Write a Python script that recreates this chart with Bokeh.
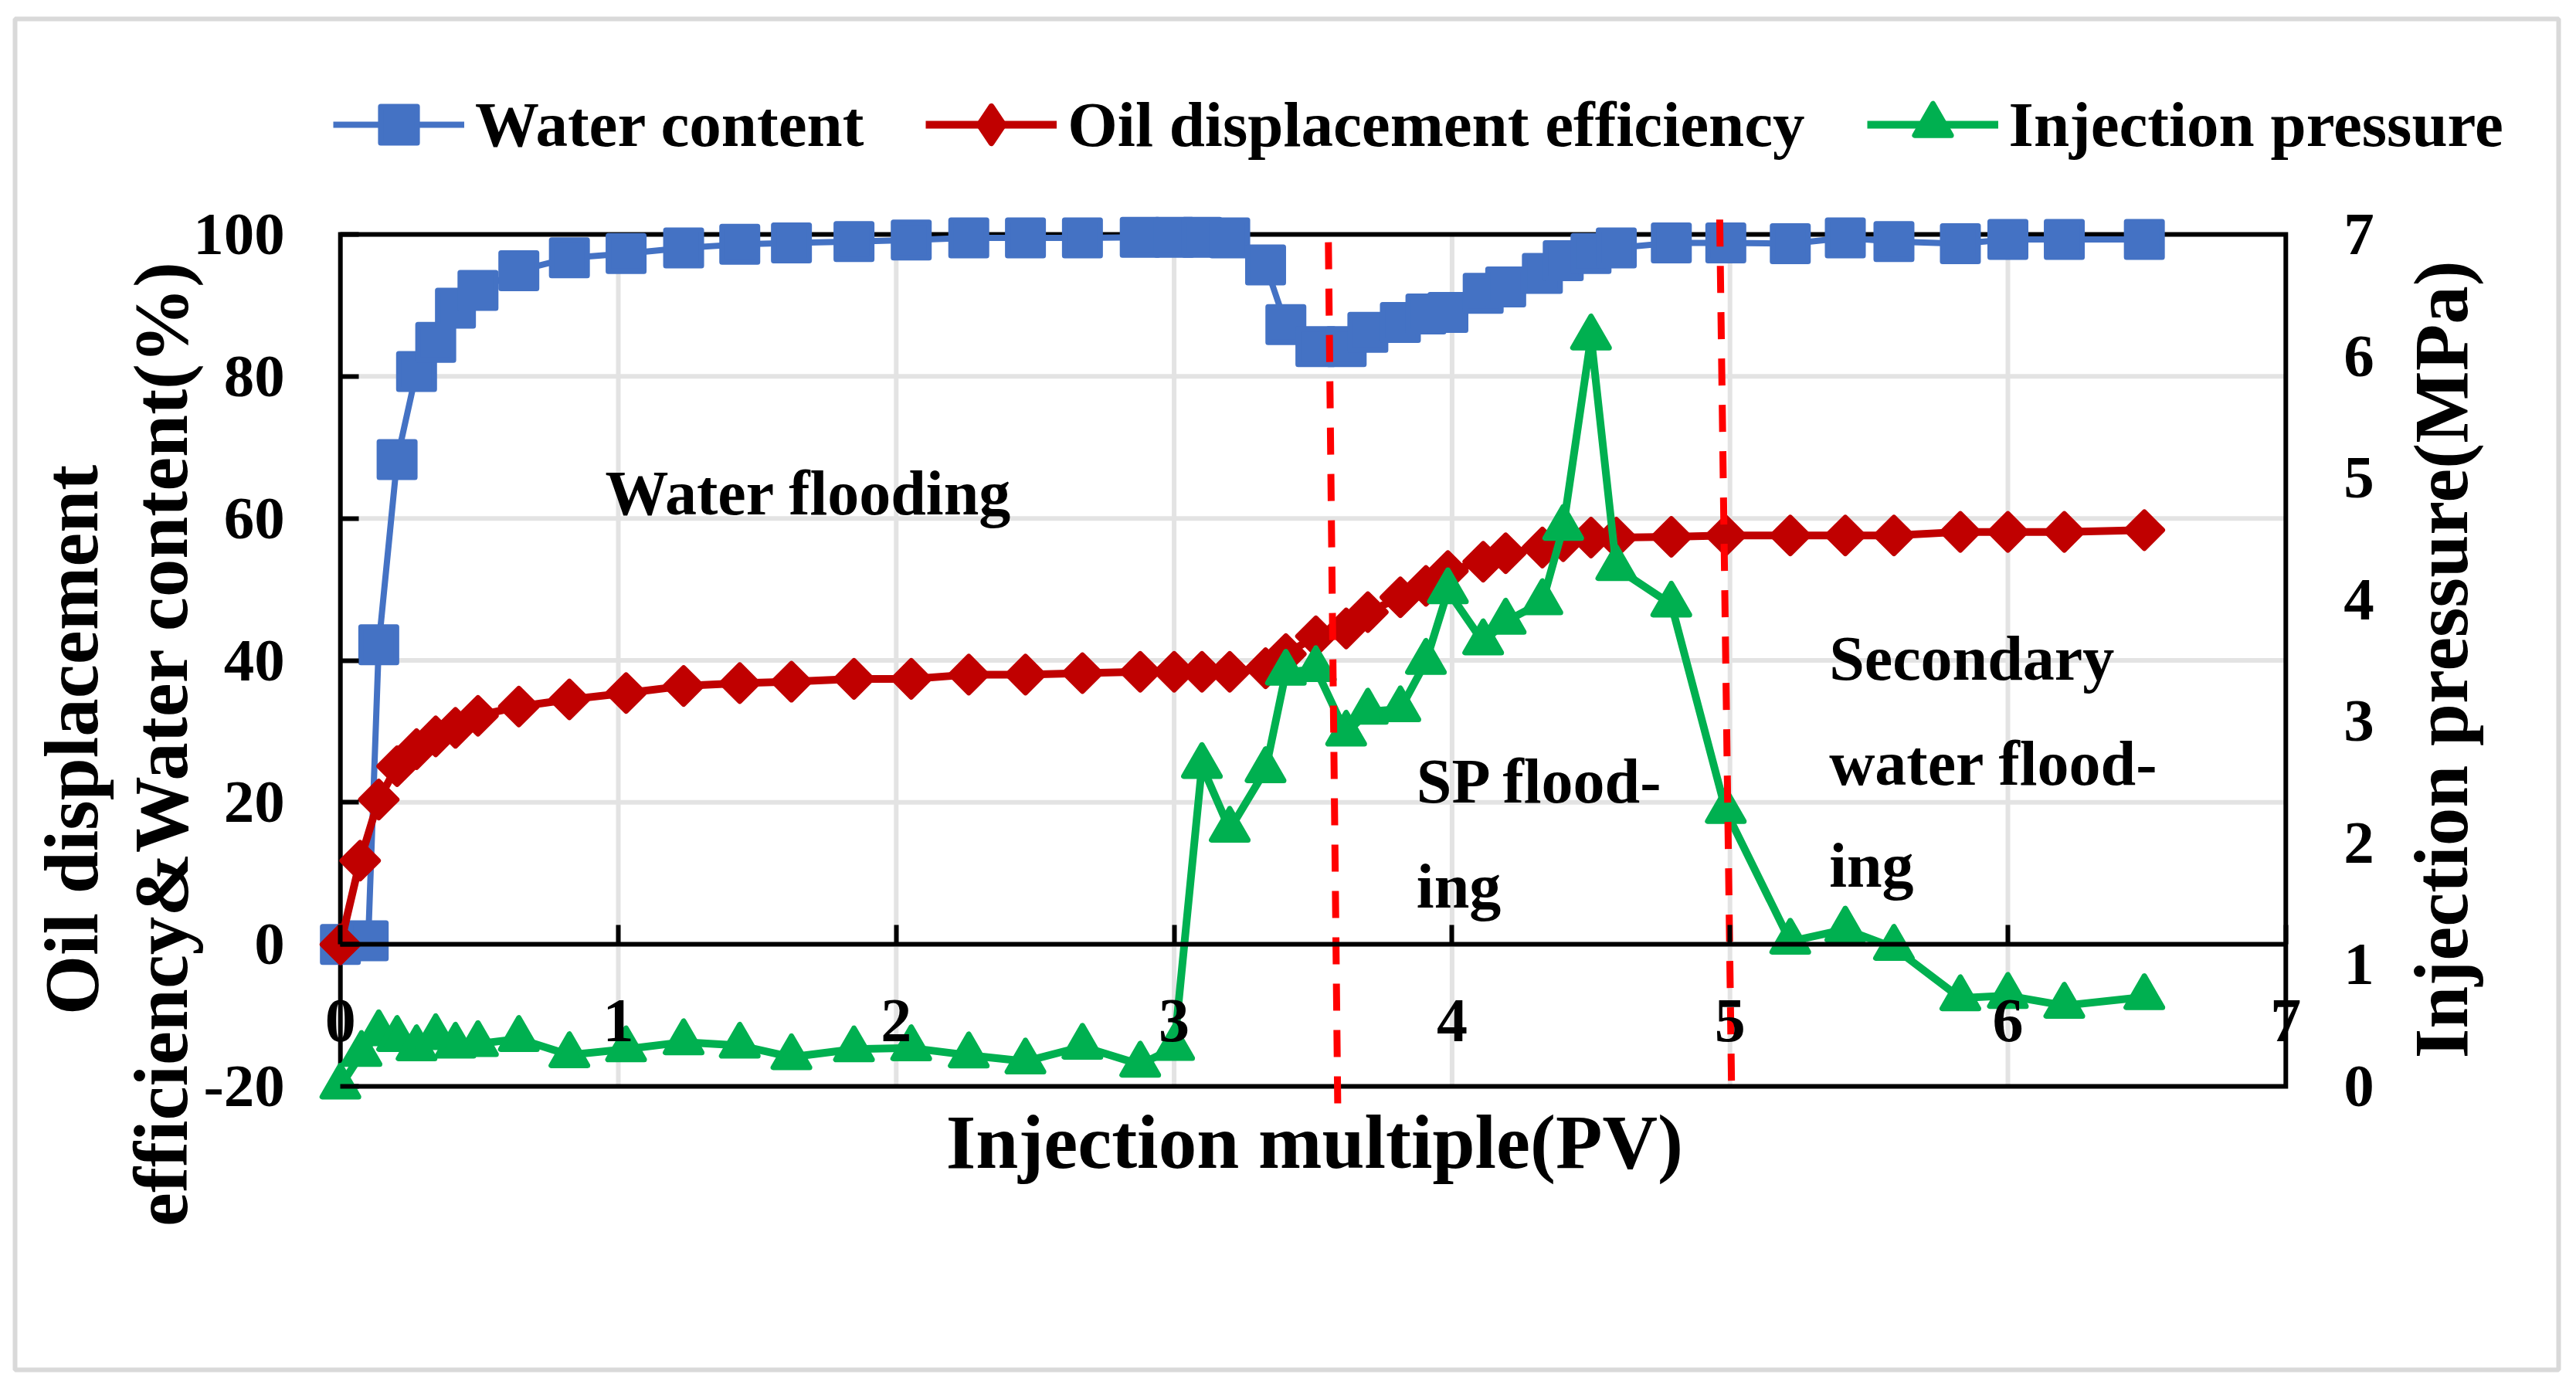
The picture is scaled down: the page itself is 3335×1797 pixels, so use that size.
#!/usr/bin/env python3

from math import pi

from bokeh.core.properties import value
from bokeh.embed import file_html
from bokeh.models import (ColumnDataSource, FixedTicker, LabelSet, Legend,
                          LegendItem, LinearAxis, Range1d)
from bokeh.plotting import figure
from bokeh.resources import INLINE

FONT = "Liberation Serif"
blue = "#4472C4"
red = "#C00000"
green = "#00B050"
grid_grey = "#E3E3E3"

# injection multiple (PV) of each sample
x_water = [0, 0.10, 0.138, 0.204, 0.274, 0.343, 0.414, 0.495, 0.642, 0.824,
           1.028, 1.235, 1.437, 1.623, 1.848, 2.054, 2.261, 2.465, 2.670, 2.878,
           3.0, 3.1, 3.2, 3.329, 3.402, 3.51, 3.619, 3.697, 3.814, 3.906,
           3.985, 4.112, 4.193, 4.325, 4.40, 4.50, 4.591, 4.789, 4.985, 5.217,
           5.415, 5.59, 5.829, 6.0, 6.203, 6.491]
x_oil = [0, 0.071, 0.138, 0.204, 0.274, 0.343, 0.414, 0.495, 0.642, 0.824,
         1.028, 1.235, 1.437, 1.623, 1.848, 2.054, 2.261, 2.465, 2.670, 2.878,
         3.0, 3.1, 3.2, 3.329, 3.402, 3.51, 3.619, 3.697, 3.814, 3.906,
         3.985, 4.112, 4.193, 4.325, 4.40, 4.50, 4.591, 4.789, 4.985, 5.217,
         5.415, 5.59, 5.829, 6.0, 6.203, 6.491]
x_pressure = [0, 0.076, 0.138, 0.204, 0.274, 0.343, 0.414, 0.495, 0.642, 0.824,
              1.028, 1.235, 1.437, 1.623, 1.848, 2.054, 2.261, 2.465, 2.670, 2.878,
              3.0, 3.1, 3.2, 3.329, 3.402, 3.51, 3.619, 3.697, 3.814, 3.906,
              3.985, 4.112, 4.193, 4.325, 4.40, 4.50, 4.591, 4.789, 4.985, 5.217,
              5.415, 5.59, 5.829, 6.0, 6.203, 6.491]

# %
water_content = [0, 0.5, 42.2, 68.3, 80.7, 84.8, 89.6, 92.1, 94.9, 96.7,
                 97.3, 98.1, 98.6, 98.8, 99.0, 99.2, 99.5, 99.5, 99.5, 99.6,
                 99.6, 99.6, 99.5, 95.7, 87.3, 84.2, 84.2, 86.2, 87.6, 88.8,
                 89.0, 91.7, 92.6, 94.5, 96.3, 97.3, 98.1, 98.8, 98.8, 98.7,
                 99.5, 99.0, 98.7, 99.3, 99.3, 99.3]
oil_efficiency = [0, 11.8, 20.4, 25.1, 27.5, 29.3, 30.5, 32.2, 33.5, 34.5,
                  35.4, 36.4, 36.8, 37.0, 37.4, 37.4, 38.0, 38.0, 38.2, 38.4,
                  38.4, 38.4, 38.4, 38.9, 40.9, 43.4, 44.5, 46.8, 48.9, 50.5,
                  52.6, 53.9, 55.1, 55.9, 56.8, 57.3, 57.3, 57.4, 57.6, 57.6,
                  57.6, 57.6, 58.1, 58.1, 58.1, 58.35]
# MPa
injection_pressure = [0, 0.268, 0.438, 0.391, 0.315, 0.406, 0.336, 0.349, 0.391, 0.258,
                      0.306, 0.364, 0.336, 0.241, 0.306, 0.315, 0.256, 0.206, 0.327, 0.18,
                      0.318, 2.634, 2.11, 2.60, 3.40, 3.43, 2.90, 3.08, 3.10, 3.49,
                      4.07, 3.65, 3.82, 3.98, 4.59, 6.155, 4.26, 3.96, 2.265, 1.19,
                      1.29, 1.14, 0.726, 0.745, 0.664, 0.735]

x_ticks = [0, 1, 2, 3, 4, 5, 6, 7]
y_ticks = [-20, 0, 20, 40, 60, 80, 100]
p_ticks = [0, 1, 2, 3, 4, 5, 6, 7]

# stage boundaries (dashed), a little slanted as in the source figure
stage_x_top = [3.555, 4.963]
stage_y_top = [98.9, 102.1]
stage_x_bottom = [3.589, 5.006]
stage_y_bottom = [-24.1, -20.9]

stage_text = ["Water flooding", "SP flood-", "ing", "Secondary", "water flood-", "ing"]
stage_text_x = [0.953, 3.872, 3.872, 5.357, 5.357, 5.357]
stage_text_y = [60.55, 19.93, 5.2, 37.25, 22.45, 8.1]

titles = ["Oil displacement", "efficiency&Water content(%)",
          "Injection pressure(MPa)", "Injection multiple(PV)"]
title_x = [-0.8733, -0.5536, 7.651, 3.505]
title_y = [28.8, 28.3, 40.13, -31.53]
title_angle = [pi / 2, pi / 2, pi / 2, 0]


# the frame fills the whole picture; the plot box sits inside it
W, H = 3319, 1781
BOX_L, BOX_R, BOX_T, BOX_B = 440.2, 2958.8, 303.0, 1406.0
kx = (BOX_R - BOX_L) / (x_ticks[-1] - x_ticks[0])
ky = (BOX_B - BOX_T) / (y_ticks[-1] - y_ticks[0])
x0, x1 = x_ticks[0] - BOX_L / kx, x_ticks[-1] + (W - BOX_R) / kx
y0, y1 = y_ticks[0] - (H - BOX_B) / ky, y_ticks[-1] + BOX_T / ky
kp = (p_ticks[-1] - p_ticks[0]) / (y_ticks[-1] - y_ticks[0])

p = figure(width=W, height=H, x_range=Range1d(x0, x1), y_range=Range1d(y0, y1),
           output_backend="svg", toolbar_location=None, title=None, min_border=0)
p.extra_y_ranges = {"p": Range1d(p_ticks[0] + (y0 - y_ticks[0]) * kp,
                                 p_ticks[0] + (y1 - y_ticks[0]) * kp)}
p.background_fill_color = "white"
p.border_fill_color = "white"
p.outline_line_color = None
p.grid.visible = False

# chart area border
p.quad(left=x0 + 19 / kx, right=x0 + 3312 / kx, top=y1 - 24 / ky, bottom=y1 - 1773 / ky,
       fill_color=None, line_color="#D9D9D9", line_width=6)

# grid and plot box
p.segment(x0=x_ticks[1:-1], y0=[y_ticks[0]] * 6, x1=x_ticks[1:-1], y1=[y_ticks[-1]] * 6,
          line_color=grid_grey, line_width=6)
p.segment(x0=[x_ticks[0]] * 5, y0=y_ticks[1:-1], x1=[x_ticks[-1]] * 5, y1=y_ticks[1:-1],
          line_color=grid_grey, line_width=6)
p.quad(left=x_ticks[0], right=x_ticks[-1], bottom=y_ticks[0], top=y_ticks[-1],
       fill_color=None, line_color="black", line_width=6, line_join="miter")

# x axis runs along 0 %
xa = p.xaxis[0]
xa.fixed_location = 0
xa.bounds = (x_ticks[0], x_ticks[-1])
xa.ticker = FixedTicker(ticks=x_ticks)
xa.axis_line_color = "black"
xa.axis_line_width = 6
xa.major_tick_line_color = "black"
xa.major_tick_line_width = 6
xa.major_tick_in = 25
xa.major_tick_out = 0
xa.minor_tick_line_color = None
xa.major_label_standoff = 72
xa.major_label_text_font = FONT
xa.major_label_text_font_size = "80px"
xa.major_label_text_font_style = "bold"
xa.major_label_text_color = "black"

ya = p.yaxis[0]
ya.fixed_location = x_ticks[0]
ya.bounds = (y_ticks[0], y_ticks[-1])
ya.ticker = FixedTicker(ticks=y_ticks)
ya.major_label_overrides = {-20: "-20"}
ya.axis_line_color = None
ya.major_tick_in = 24
ya.major_tick_out = 0
ya.major_tick_line_width = 6
ya.major_tick_line_color = "black"
ya.minor_tick_line_color = None
ya.major_label_standoff = 72
ya.major_label_text_font = FONT
ya.major_label_text_font_size = "79px"
ya.major_label_text_font_style = "bold"
ya.major_label_text_color = "black"

right = LinearAxis(y_range_name="p", fixed_location=x_ticks[-1],
                   bounds=(p_ticks[0], p_ticks[-1]), ticker=FixedTicker(ticks=p_ticks),
                   axis_line_color=None, major_tick_line_color=None,
                   minor_tick_line_color=None, major_tick_in=0, major_tick_out=0,
                   major_label_standoff=75, major_label_text_font=FONT,
                   major_label_text_font_size="79px", major_label_text_font_style="bold",
                   major_label_text_color="black")
p.add_layout(right, "right")

src_w = ColumnDataSource(dict(x=x_water, y=water_content))
src_o = ColumnDataSource(dict(x=x_oil, y=oil_efficiency))
src_p = ColumnDataSource(dict(x=x_pressure, y=injection_pressure))

lw = p.line("x", "y", source=src_w, line_color=blue, line_width=8)
sw = p.scatter("x", "y", source=src_w, marker="square", size=46, fill_color=blue,
               line_color=blue, line_width=7, line_join="round")
lo = p.line("x", "y", source=src_o, line_color=red, line_width=10)
so = p.scatter("x", "y", source=src_o, marker="square", angle=pi / 4, size=33,
               fill_color=red, line_color=red, line_width=7, line_join="round")
# legend glyphs are drawn unrotated, so the legend gets a diamond of its own
so_key = p.scatter("x", "y", source=src_o, marker="diamond", size=50, fill_color=red,
                   line_color=red, line_width=8, line_join="round", visible=False)
lp = p.line("x", "y", source=src_p, y_range_name="p", line_color=green, line_width=10)
sp = p.scatter("x", "y", source=src_p, y_range_name="p", marker="triangle", size=47,
               fill_color=green, line_color=green, line_width=7, line_join="round")

p.segment(x0=stage_x_top, y0=stage_y_top, x1=stage_x_bottom, y1=stage_y_bottom,
          line_color="#FF0000", line_width=9, line_dash="35 25")

stage_src = ColumnDataSource(dict(x=stage_text_x, y=stage_text_y, text=stage_text))
p.add_layout(LabelSet(x="x", y="y", text="text", source=stage_src,
                      text_baseline="alphabetic", text_font=value(FONT),
                      text_font_size="82px", text_font_style="bold", text_color="black"))

title_src = ColumnDataSource(dict(x=title_x, y=title_y, text=titles, angle=title_angle))
p.add_layout(LabelSet(x="x", y="y", text="text", angle="angle", source=title_src,
                      text_align="center", text_baseline="alphabetic",
                      text_font=value(FONT), text_font_size="99px",
                      text_font_style="bold", text_color="black"))

legend = Legend(items=[LegendItem(label="Water content", renderers=[lw, sw]),
                       LegendItem(label="Oil displacement efficiency", renderers=[lo, so_key]),
                       LegendItem(label="Injection pressure", renderers=[lp, sp])],
                orientation="horizontal", location=(431, H - 102 - 118),
                glyph_width=170, glyph_height=118, label_standoff=14, spacing=80,
                padding=0, margin=0, border_line_color=None, background_fill_alpha=0,
                label_text_font=FONT, label_text_font_size="83px",
                label_text_font_style="bold", label_text_color="black")
p.add_layout(legend)

open("out.html", "w").write(file_html(p, INLINE))
